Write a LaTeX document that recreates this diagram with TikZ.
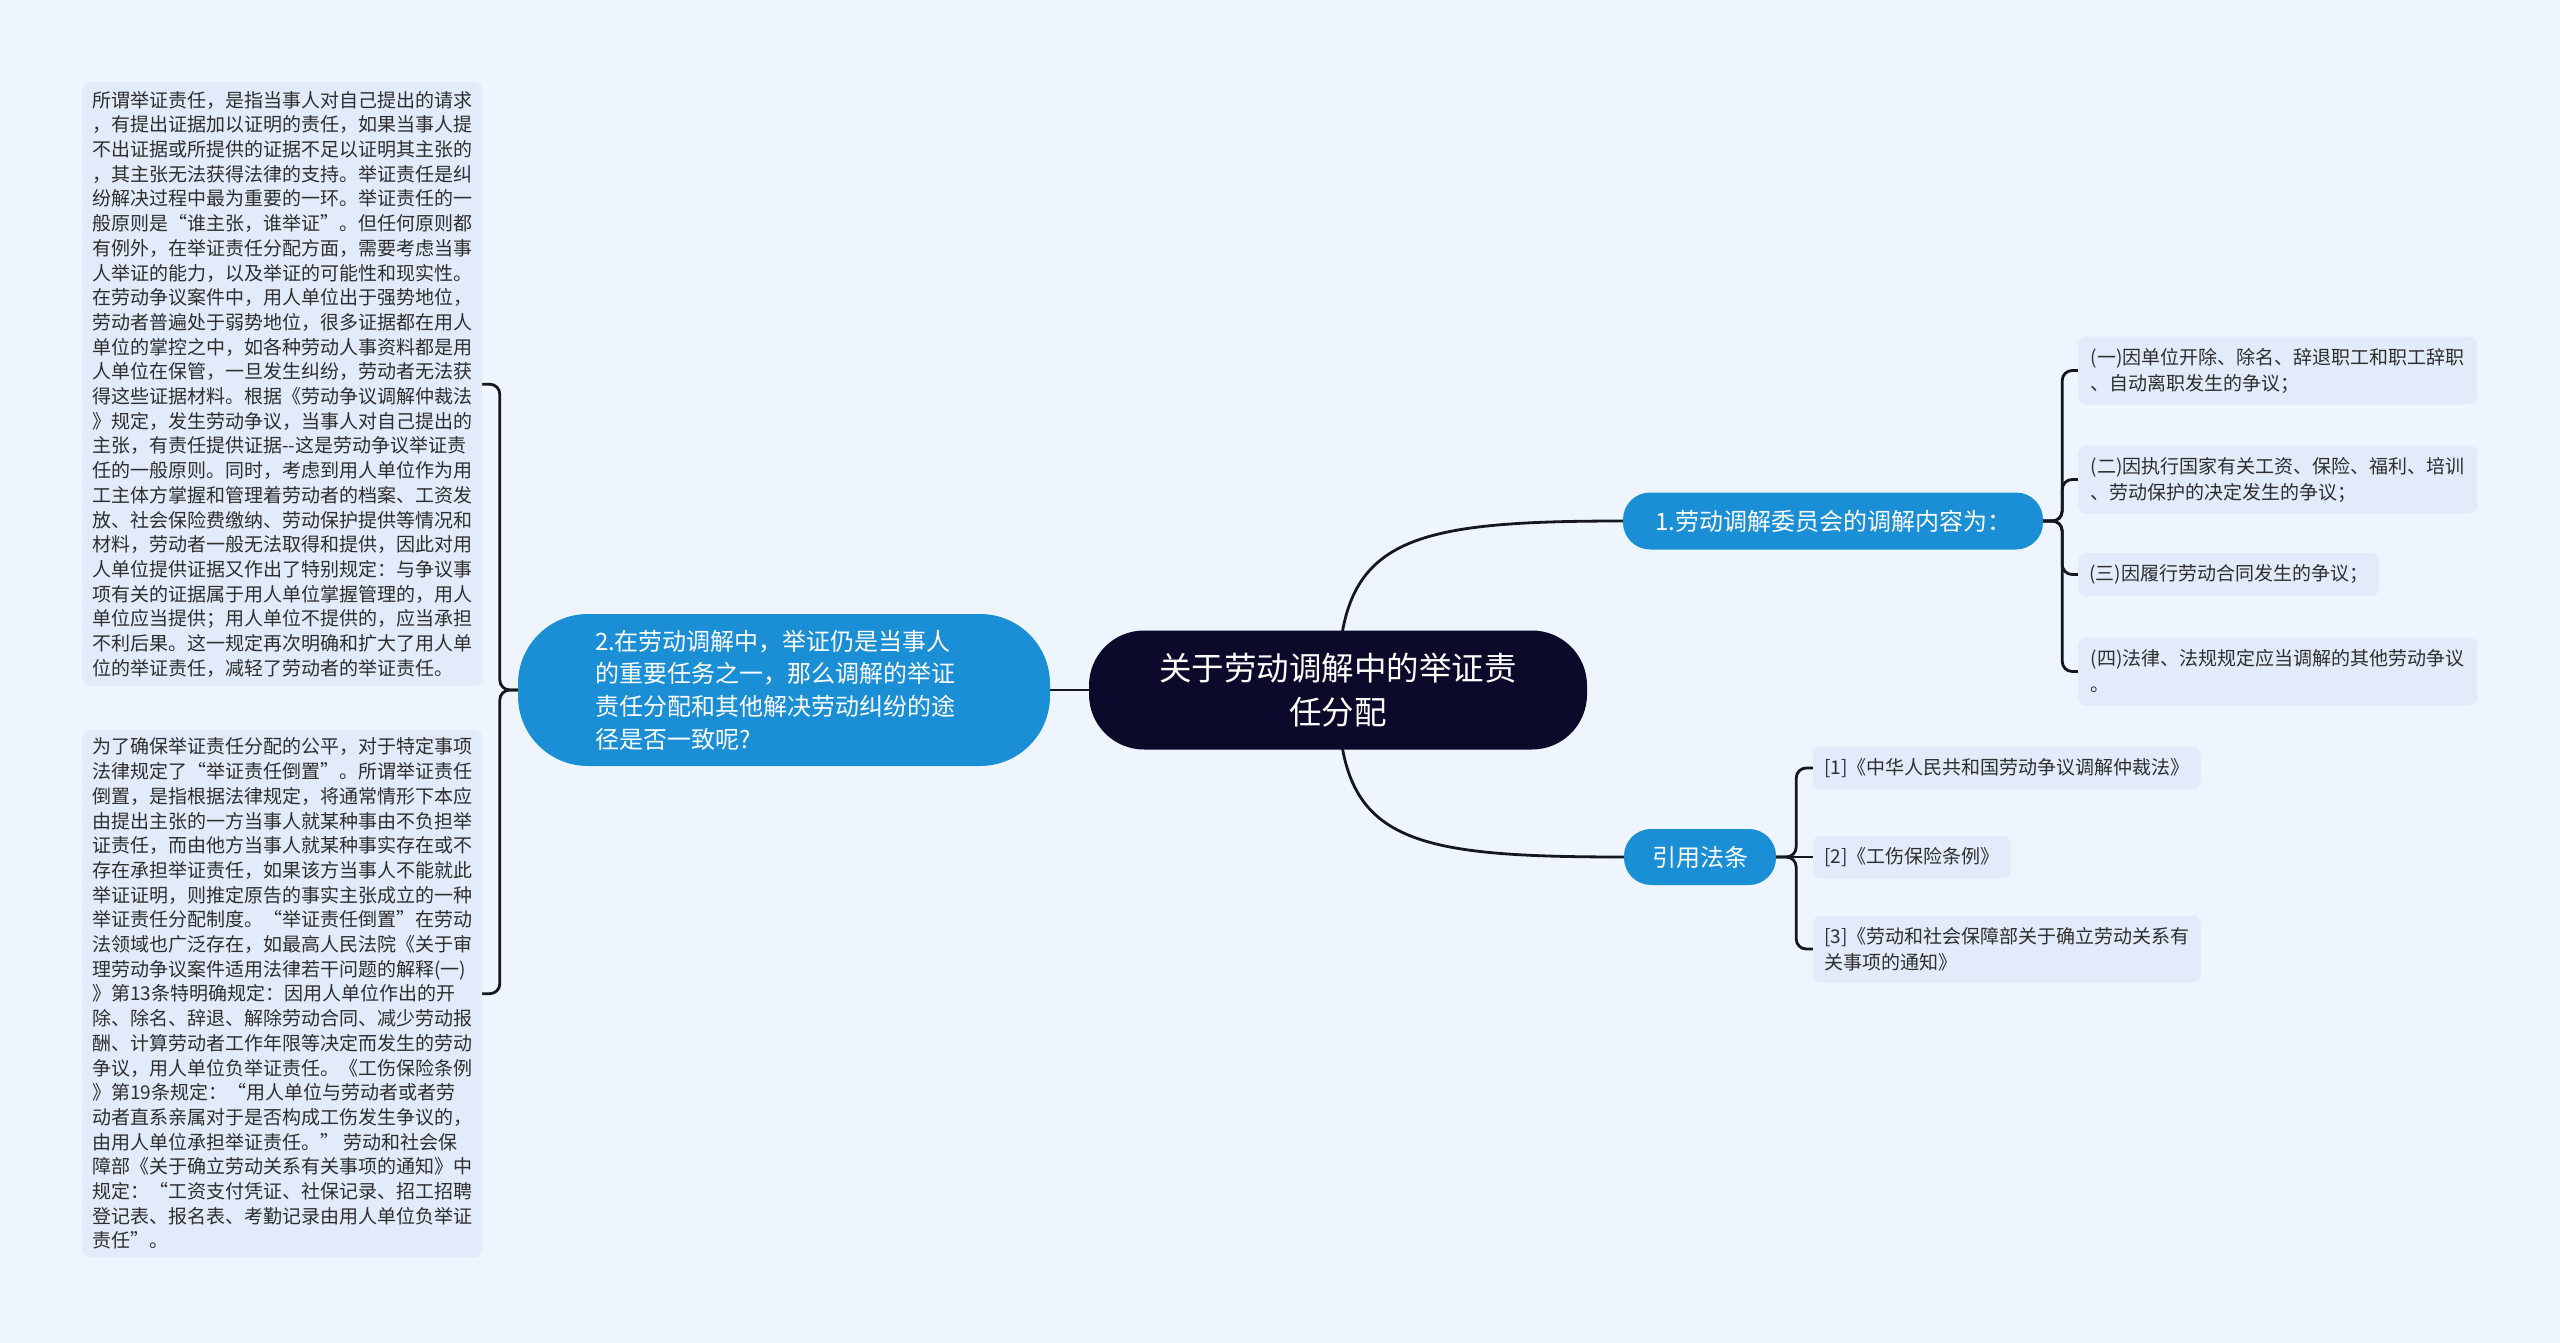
\documentclass[tikz,border=0pt]{standalone}
\usepackage{fontspec}
\setmainfont{Noto Sans CJK SC}
\usetikzlibrary{backgrounds}
\definecolor{bg}{HTML}{EFF5FE}
\definecolor{leafc}{HTML}{E2EBFA}
\definecolor{bluec}{HTML}{1A8FD5}
\definecolor{rootc}{HTML}{0C0A2A}
\definecolor{txt}{HTML}{2E2E2E}
\definecolor{linec}{HTML}{16161F}
\begin{document}
\begin{tikzpicture}[x=1pt,y=-1pt,
 conn/.style={draw=linec, line width=2.8pt, line cap=round},
 leafbox/.style={fill=leafc, rounded corners=8pt, text=txt, align=left, inner xsep=11pt, inner ysep=4pt, font=\fontsize{19}{26}\selectfont, anchor=west},
 textblock/.style={fill=leafc, rounded corners=8pt, text=txt, align=left, inner xsep=9pt, inner ysep=4pt, font=\fontsize{19}{24.7}\selectfont, minimum width=400pt, anchor=north west},
 bluenode/.style={fill=bluec, text=white, font=\fontsize{24}{32.7}\selectfont, align=left},
]
\useasboundingbox (0,0) rectangle (2560,1343);

% central topic
\node[fill=rootc, text=white, rounded corners=55pt, minimum width=498pt, minimum height=119pt, align=center, font=\fontsize{32.5}{44}\selectfont] (root) at (1338,690) {关于劳动调解中的举证责\\任分配};

% main branches
\node[bluenode, rounded corners=70pt, minimum width=532pt, minimum height=152pt, text width=378pt] (q2) at (784,690) {2.在劳动调解中，举证仍是当事人\\的重要任务之一，那么调解的举证\\责任分配和其他解决劳动纠纷的途\\径是否一致呢?};
\node[bluenode, rounded corners=27pt, minimum width=420pt, minimum height=57pt, align=center] (q1) at (1833,521) {1.劳动调解委员会的调解内容为：};
\node[bluenode, rounded corners=27pt, minimum width=152pt, minimum height=56pt, align=center] (law) at (1700,857) {引用法条};

% leaves of branch 1
\node[leafbox, minimum height=68pt, minimum width=399pt] (a1) at (2078,370.5) {(一)因单位开除、除名、辞退职工和职工辞职\\、自动离职发生的争议；};
\node[leafbox, minimum height=68pt, minimum width=399pt] (a2) at (2078,479.5) {(二)因执行国家有关工资、保险、福利、培训\\、劳动保护的决定发生的争议；};
\node[leafbox, minimum height=43pt, minimum width=299pt] (a3) at (2078,574.5) {(三)因履行劳动合同发生的争议；};
\node[leafbox, minimum height=68pt, minimum width=399pt] (a4) at (2078,671.5) {(四)法律、法规规定应当调解的其他劳动争议\\。};

% citations
\node[leafbox, minimum height=43pt] (c1) at (1813,768) {[1]《中华人民共和国劳动争议调解仲裁法》};
\node[leafbox, minimum height=43pt] (c2) at (1813,857) {[2]《工伤保险条例》};
\node[leafbox, minimum height=67pt] (c3) at (1813,949) {[3]《劳动和社会保障部关于确立劳动关系有\\关事项的通知》};

% left text blocks
\node[textblock, minimum height=604pt] (L1) at (82,82) {所谓举证责任，是指当事人对自己提出的请求\\，有提出证据加以证明的责任，如果当事人提\\不出证据或所提供的证据不足以证明其主张的\\，其主张无法获得法律的支持。举证责任是纠\\纷解决过程中最为重要的一环。举证责任的一\\般原则是“谁主张，谁举证”。但任何原则都\\有例外，在举证责任分配方面，需要考虑当事\\人举证的能力，以及举证的可能性和现实性。\\在劳动争议案件中，用人单位出于强势地位，\\劳动者普遍处于弱势地位，很多证据都在用人\\单位的掌控之中，如各种劳动人事资料都是用\\人单位在保管，一旦发生纠纷，劳动者无法获\\得这些证据材料。根据《劳动争议调解仲裁法\\》规定，发生劳动争议，当事人对自己提出的\\主张，有责任提供证据-{}-这是劳动争议举证责\\任的一般原则。同时，考虑到用人单位作为用\\工主体方掌握和管理着劳动者的档案、工资发\\放、社会保险费缴纳、劳动保护提供等情况和\\材料，劳动者一般无法取得和提供，因此对用\\人单位提供证据又作出了特别规定：与争议事\\项有关的证据属于用人单位掌握管理的，用人\\单位应当提供；用人单位不提供的，应当承担\\不利后果。这一规定再次明确和扩大了用人单\\位的举证责任，减轻了劳动者的举证责任。};
\node[textblock, minimum height=527pt] (L2) at (82,730) {为了确保举证责任分配的公平，对于特定事项\\法律规定了“举证责任倒置”。所谓举证责任\\倒置，是指根据法律规定，将通常情形下本应\\由提出主张的一方当事人就某种事由不负担举\\证责任，而由他方当事人就某种事实存在或不\\存在承担举证责任，如果该方当事人不能就此\\举证证明，则推定原告的事实主张成立的一种\\举证责任分配制度。“举证责任倒置”在劳动\\法领域也广泛存在，如最高人民法院《关于审\\理劳动争议案件适用法律若干问题的解释(一)\\》第13条特明确规定：因用人单位作出的开\\除、除名、辞退、解除劳动合同、减少劳动报\\酬、计算劳动者工作年限等决定而发生的劳动\\争议，用人单位负举证责任。《工伤保险条例\\》第19条规定：“用人单位与劳动者或者劳\\动者直系亲属对于是否构成工伤发生争议的，\\由用人单位承担举证责任。”\ 劳动和社会保\\障部《关于确立劳动关系有关事项的通知》中\\规定：“工资支付凭证、社保记录、招工招聘\\登记表、报名表、考勤记录由用人单位负举证\\责任”。};

\begin{pgfonlayer}{background}
\fill[bg] (0,0) rectangle (2560,1343);
\draw[conn] (root.west) -- (q2.east);
\draw[conn] (root.center) .. controls (1338,540) and (1400,521) .. (q1.west);
\draw[conn] (root.center) .. controls (1338,840) and (1400,857) .. (law.west);
\draw[conn, rounded corners=10pt] (q2.west) -- ++(-18,0) |- (L1.east);
\draw[conn, rounded corners=10pt] (q2.west) -- ++(-18,0) |- (L2.east);
\draw[conn, rounded corners=10pt] (q1.east) -- ++(19,0) |- (a1.west);
\draw[conn, rounded corners=10pt] (q1.east) -- ++(19,0) |- (a2.west);
\draw[conn, rounded corners=10pt] (q1.east) -- ++(19,0) |- (a3.west);
\draw[conn, rounded corners=10pt] (q1.east) -- ++(19,0) |- (a4.west);
\draw[conn, rounded corners=10pt] (law.east) -- ++(20,0) |- (c1.west);
\draw[conn] (law.east) -- (c2.west);
\draw[conn, rounded corners=10pt] (law.east) -- ++(20,0) |- (c3.west);
\end{pgfonlayer}
\end{tikzpicture}
\end{document}
